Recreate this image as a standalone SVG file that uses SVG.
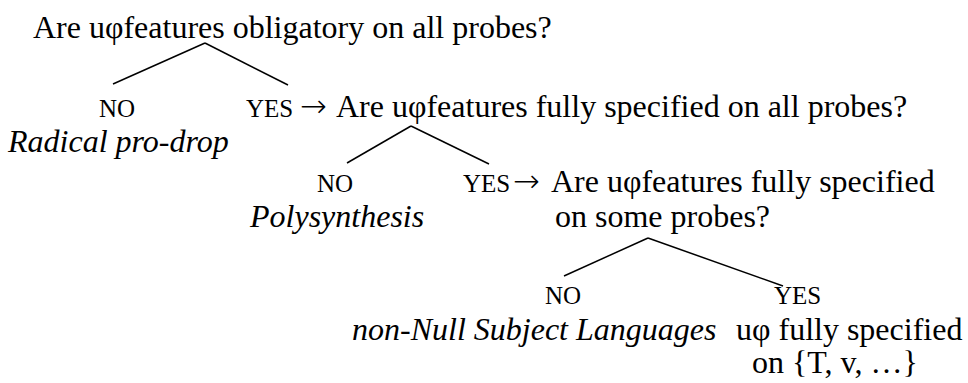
<svg xmlns="http://www.w3.org/2000/svg" width="968" height="383" viewBox="0 0 968 383">
<style>
text{font-family:'Liberation Serif','Times New Roman',Tinos,Times,'DejaVu Serif',serif;fill:#000}
.q{font-size:32px}
.a{font-size:25px}
.i{font-size:32px;font-style:italic}
.r{font-family:'DejaVu Sans','DejaVu Serif',sans-serif;font-weight:200;font-size:32px}
.c line{stroke:#000;stroke-width:1.5;fill:none}
</style>
<rect width="968" height="383" fill="#fff"/>
<g class="c" id="connectors">
<line x1="205" y1="43" x2="113" y2="84"/>
<line x1="205" y1="43" x2="288" y2="85"/>
<line x1="411" y1="126" x2="347" y2="163"/>
<line x1="411" y1="126" x2="489" y2="164"/>
<line x1="648" y1="238" x2="564" y2="276"/>
<line x1="648" y1="238" x2="783" y2="286"/>
</g>
<g id="q1"><text class="q" x="33" y="38">Are uφfeatures obligatory on all probes?</text></g>
<g id="no1"><text class="a" x="99" y="117">NO</text><text class="i" x="8" y="152">Radical pro-drop</text></g>
<g id="q2"><text class="a" x="246" y="117">YES</text><text class="r" x="300" y="117">→</text><text class="q" x="336" y="117">Are uφfeatures fully specified on all probes?</text></g>
<g id="no2"><text class="a" x="317" y="192">NO</text><text class="i" x="250" y="227">Polysynthesis</text></g>
<g id="q3"><text class="a" x="463" y="192">YES</text><text class="r" x="513" y="192">→</text><text class="q" x="551" y="192">Are uφfeatures fully specified</text><text class="q" x="555" y="227">on some probes?</text></g>
<g id="no3"><text class="a" x="545" y="304">NO</text><text class="i" x="352" y="340">non-Null Subject Languages</text></g>
<g id="yes3"><text class="a" x="774" y="304">YES</text><text class="q" x="736" y="340">uφ fully specified</text><text class="q" x="752" y="373">on {T, v, …}</text></g>
</svg>
